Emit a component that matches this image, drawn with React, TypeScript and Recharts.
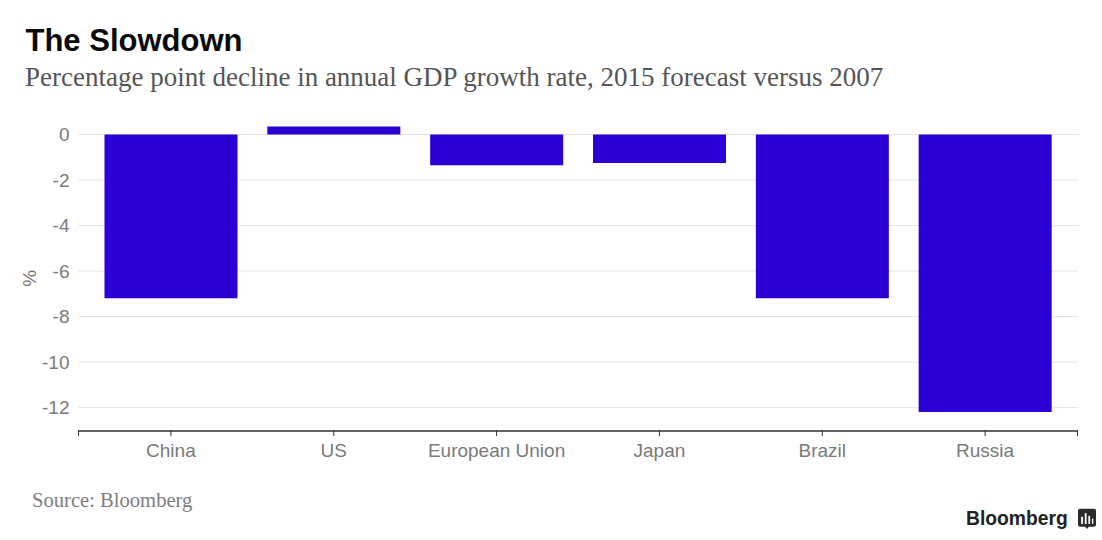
import React from "react";
import { BarChart, Bar, XAxis, YAxis, CartesianGrid, Label } from "recharts";

const categories = ["China", "US", "European Union", "Japan", "Brazil", "Russia"];
const declines = [-7.2, 0.35, -1.35, -1.25, -7.2, -12.2];
const yTicks = [0, -2, -4, -6, -8, -10, -12];
const rows = categories.map((name, i) => ({ name, value: declines[i] }));

const SANS = "'Liberation Sans', Arial, sans-serif";
const SERIF = "'Liberation Serif', serif";
const AXIS_LEFT = 78.5;
const AXIS_RIGHT = 1077.5;

function XTick(props: any) {
  const { x, y, index, payload } = props;
  const top = y - 9;
  const bottom = y - 3;
  return (
    <g>
      <line x1={x} x2={x} y1={top} y2={bottom} stroke="#333" strokeWidth={1} />
      {index === 0 && <line x1={AXIS_LEFT} x2={AXIS_LEFT} y1={top} y2={bottom} stroke="#333" strokeWidth={1} />}
      {index === categories.length - 1 && <line x1={AXIS_RIGHT} x2={AXIS_RIGHT} y1={top} y2={bottom} stroke="#333" strokeWidth={1} />}
      <text x={x} y={y + 18} textAnchor="middle" fontFamily={SANS} fontSize={19} fill="#7a7a7a">{payload.value}</text>
    </g>
  );
}

export default function App() {
  return (
    <div style={{ position: "absolute", left: 0, top: 0, width: 1102, height: 540, background: "#fff", overflow: "hidden" }}>
      <div style={{ position: "absolute", left: 25.5, top: 23, fontFamily: SANS, fontWeight: 700, fontSize: 31, lineHeight: "36px", color: "#0a0a0a", whiteSpace: "nowrap" }}>The Slowdown</div>
      <div style={{ position: "absolute", left: 25, top: 61, fontFamily: SERIF, fontSize: 27, lineHeight: "32px", color: "#555", whiteSpace: "nowrap" }}>Percentage point decline in annual GDP growth rate, 2015 forecast versus 2007</div>
      <div style={{ position: "absolute", left: 32, top: 488, fontFamily: SERIF, fontSize: 20.6, lineHeight: "24px", color: "#7d7d7d", whiteSpace: "nowrap" }}>Source: Bloomberg</div>
      <div style={{ position: "absolute", left: 966, top: 506, fontFamily: SANS, fontWeight: 700, fontSize: 19.3, lineHeight: "26px", color: "#222", whiteSpace: "nowrap" }}>Bloomberg</div>
      <svg style={{ position: "absolute", left: 1078, top: 508 }} width="18" height="22" viewBox="0 0 20 23">
        <path d="M2 0H18a2 2 0 0 1 2 2V18a2 2 0 0 1 -2 2H12L10 22.5L8 20H2a2 2 0 0 1 -2 -2V2a2 2 0 0 1 2 -2Z" fill="#2b2b2b" />
        <rect x="3.5" y="9" width="2" height="8" fill="#fff" />
        <rect x="7.5" y="5" width="2" height="12" fill="#fff" />
        <rect x="11.5" y="8" width="2" height="9" fill="#fff" />
        <rect x="15.5" y="11" width="1.5" height="6" fill="#fff" />
      </svg>
      <div style={{ position: "absolute", left: 0, top: 0 }}>
        <BarChart width={1102} height={540} data={rows} margin={{ top: 125.4, right: 24.5, bottom: 0, left: 0 }} barSize={133}>
          <CartesianGrid horizontal vertical={false} stroke="#e4e4e4" strokeWidth={1} horizontalValues={yTicks} />
          <YAxis
            type="number"
            width={78.5}
            domain={[-13.03, 0.4]}
            ticks={yTicks}
            interval={0}
            axisLine={false}
            tickLine={false}
            tickMargin={3}
            tick={{ fontFamily: SANS, fontSize: 19, fill: "#7a7a7a" }}
          >
            <Label value="%" angle={-90} position="insideLeft" offset={29} style={{ fontFamily: SANS, fontSize: 19, fill: "#7a7a7a", textAnchor: "middle" }} />
          </YAxis>
          <XAxis
            dataKey="name"
            height={109}
            interval={0}
            padding={{ left: 11, right: 11 }}
            axisLine={{ stroke: "#666", strokeWidth: 2 }}
            tickLine={false}
            tick={<XTick />}
          />
          <Bar dataKey="value" fill="#2b00d4" isAnimationActive={false} />
        </BarChart>
      </div>
    </div>
  );
}
